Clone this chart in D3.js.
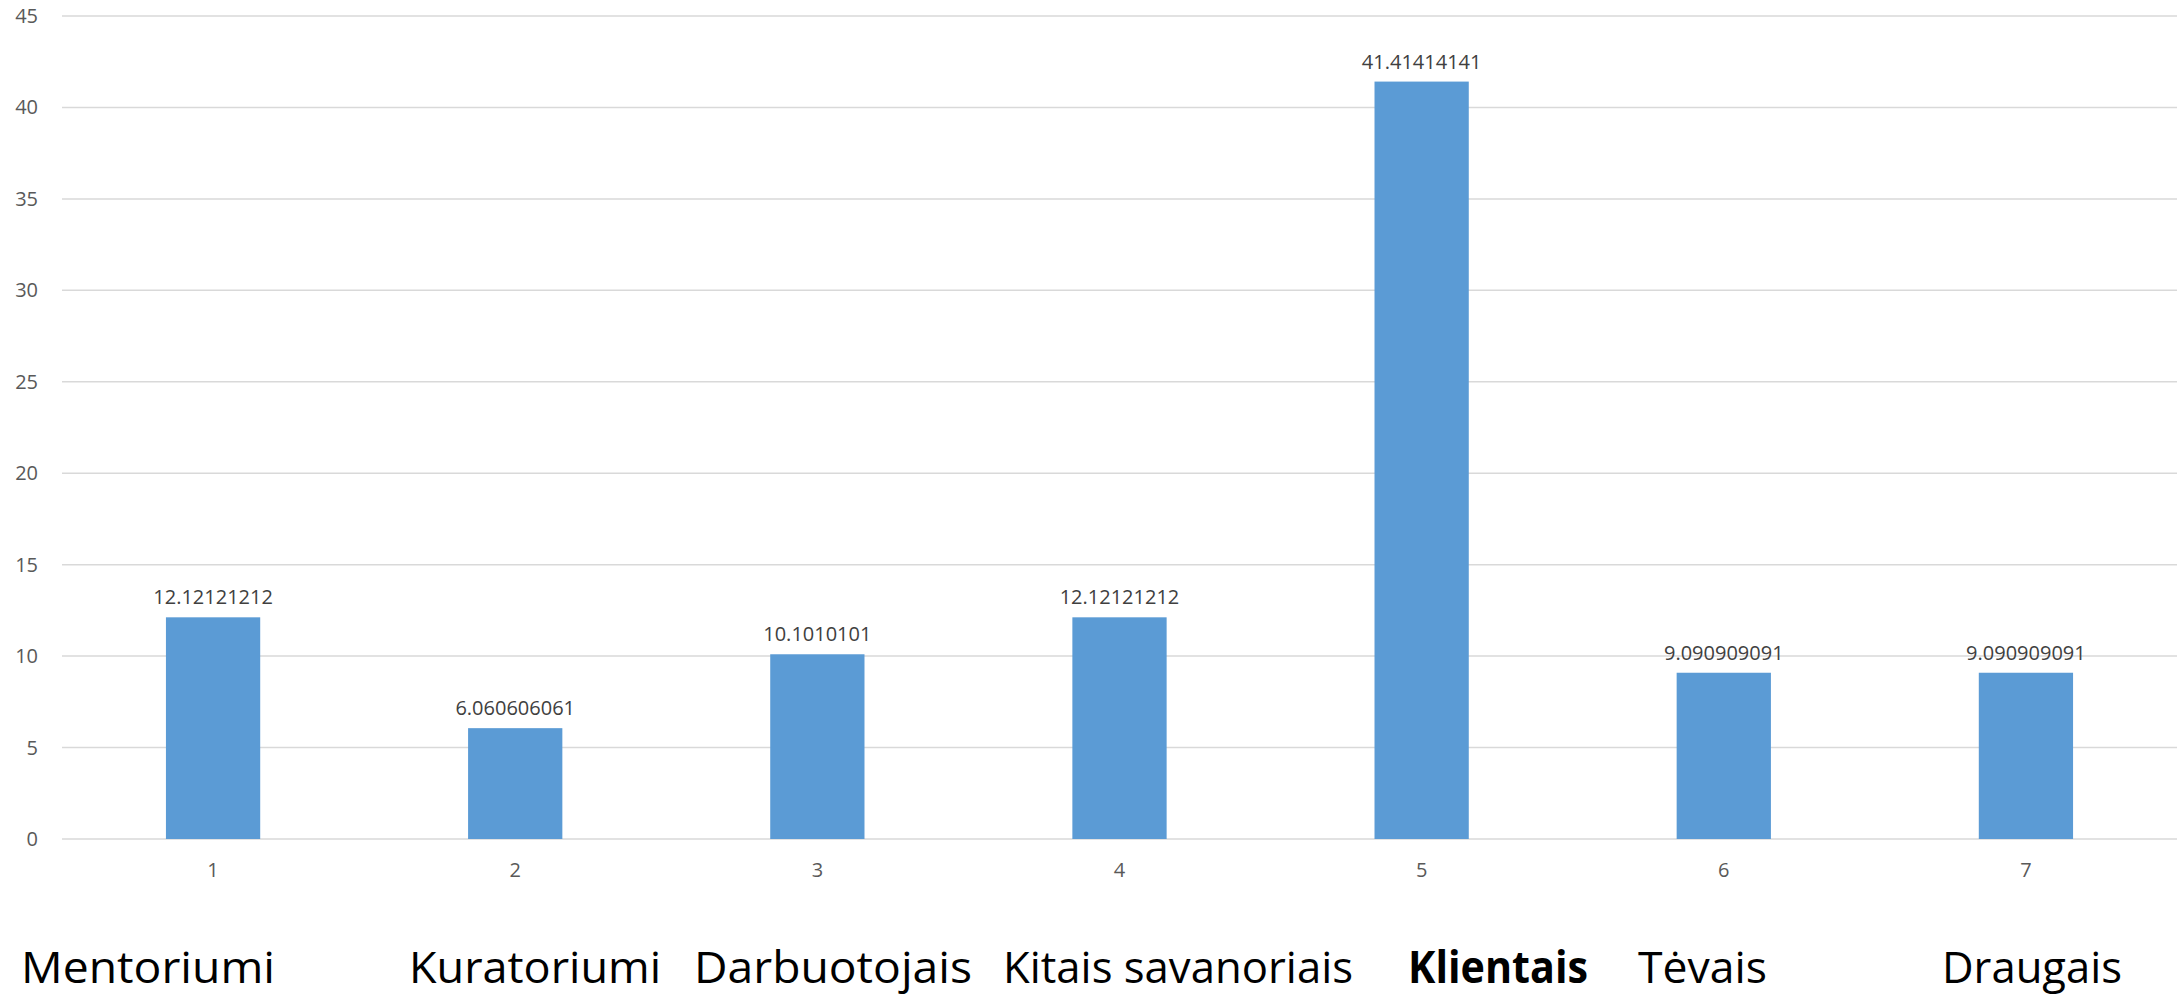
<!DOCTYPE html>
<html>
<head>
<meta charset="utf-8">
<script src="https://cdn.jsdelivr.net/npm/d3@7"></script>
<style>
  body { margin: 0; background: #fff; }
  text { font-family: "Open Sans", sans-serif; }
</style>
</head>
<body>
<script>
// chart data
const categories = ["1", "2", "3", "4", "5", "6", "7"];
const values = [12.12121212, 6.060606061, 10.1010101, 12.12121212, 41.41414141, 9.090909091, 9.090909091];
const valueLabels = ["12.12121212", "6.060606061", "10.1010101", "12.12121212", "41.41414141", "9.090909091", "9.090909091"];
const yTicks = [0, 5, 10, 15, 20, 25, 30, 35, 40, 45];
// names typed under the chart
const names = ["Mentoriumi", "Kuratoriumi", "Darbuotojais", "Kitais savanoriais", "Klientais", "Tėvais", "Draugais"];
const namesBold = [false, false, false, false, true, false, false];

const width = 2183;
const height = 996;
const margin = {top: 16, right: 6, bottom: 157, left: 62};

const svg = d3.select("body").append("svg")
    .attr("width", width)
    .attr("height", height);

const x = d3.scaleBand()
    .domain(categories)
    .range([margin.left, width - margin.right])
    .paddingInner(0.688)
    .paddingOuter(0.344);

const y = d3.scaleLinear()
    .domain([0, 45])
    .range([height - margin.bottom, margin.top]);

// gridlines
svg.append("g")
    .selectAll("line")
    .data(yTicks)
    .join("line")
    .attr("x1", margin.left)
    .attr("x2", width - margin.right)
    .attr("y1", d => y(d))
    .attr("y2", d => y(d))
    .attr("stroke", "#d9d9d9")
    .attr("stroke-width", 1.5);

// y labels
svg.append("g")
    .selectAll("text")
    .data(yTicks)
    .join("text")
    .attr("x", 38)
    .attr("y", d => y(d))
    .attr("dy", "0.35em")
    .attr("text-anchor", "end")
    .attr("font-size", 20)
    .attr("fill", "#595959")
    .text(d => d);

// bars
svg.append("g")
    .selectAll("rect")
    .data(values)
    .join("rect")
    .attr("x", (d, i) => x(categories[i]))
    .attr("width", x.bandwidth())
    .attr("y", d => y(d))
    .attr("height", d => y(0) - y(d))
    .attr("fill", "#5b9bd5");

// value labels
svg.append("g")
    .selectAll("text")
    .data(values)
    .join("text")
    .attr("x", (d, i) => x(categories[i]) + x.bandwidth() / 2)
    .attr("y", d => y(d) - 13)
    .attr("text-anchor", "middle")
    .attr("font-size", 20)
    .attr("fill", "#404040")
    .text((d, i) => valueLabels[i]);

// x labels
svg.append("g")
    .selectAll("text")
    .data(categories)
    .join("text")
    .attr("x", d => x(d) + x.bandwidth() / 2)
    .attr("y", y(0) + 31)
    .attr("dy", "0.35em")
    .attr("text-anchor", "middle")
    .attr("font-size", 20)
    .attr("fill", "#595959")
    .text(d => d);

const nameX = [21, 409, 694, 1003, 1408, 1638, 1942];
const nameW = [254, 252, 278, 350, 180, 129, 180];
svg.append("g")
    .selectAll("text")
    .data(names)
    .join("text")
    .attr("x", (d, i) => nameX[i])
    .attr("y", 983)
    .attr("font-size", 44)
    .attr("font-weight", (d, i) => namesBold[i] ? "bold" : "normal")
    .attr("textLength", (d, i) => nameW[i])
    .attr("lengthAdjust", "spacingAndGlyphs")
    .attr("fill", "#000")
    .text(d => d);
</script>
</body>
</html>
